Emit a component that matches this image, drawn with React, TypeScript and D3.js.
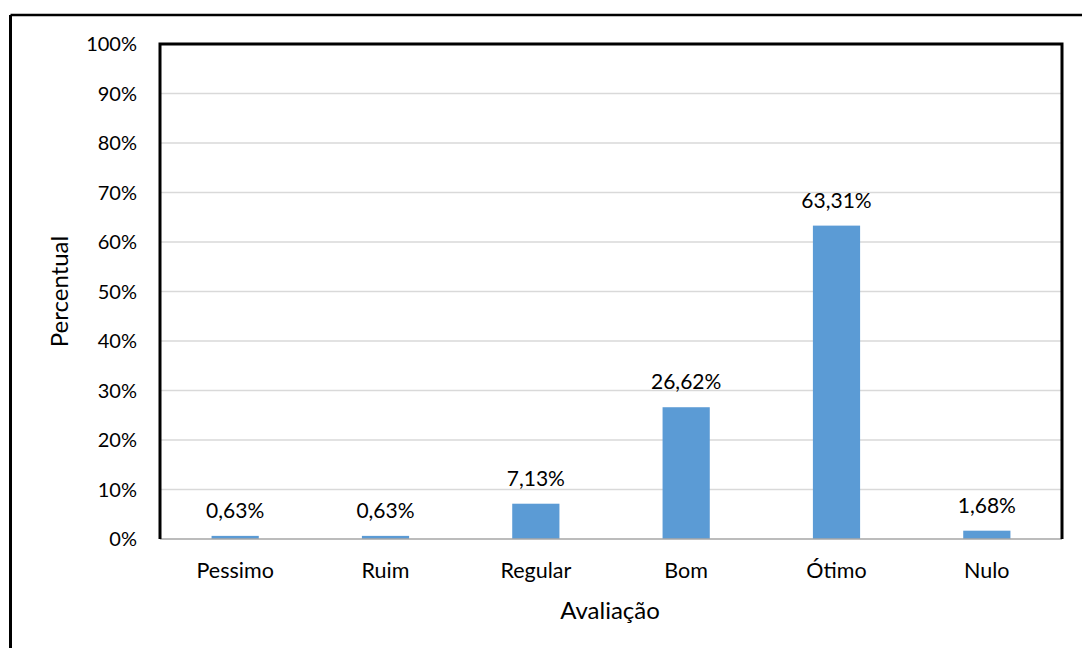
import React from "react";
import * as d3 from "d3";

const categories = ["Pessimo", "Ruim", "Regular", "Bom", "Ótimo", "Nulo"];
const values = [0.63, 0.63, 7.13, 26.62, 63.31, 1.68];
const yTicks = [0, 10, 20, 30, 40, 50, 60, 70, 80, 90, 100];

const W = 1082;
const H = 648;
const plot = { left: 160, right: 1062, top: 44, bottom: 539 };
const FONT = "Lato, 'Open Sans', sans-serif";

export default function App() {
  const x = d3
    .scaleBand<string>()
    .domain(categories)
    .range([plot.left, plot.right])
    .paddingInner(0.686)
    .paddingOuter(0.343);
  const y = d3.scaleLinear().domain([0, 100]).range([plot.bottom, plot.top]);
  const fmt = (v: number) => v.toFixed(2).replace(".", ",") + "%";

  return (
    <svg
      width={W}
      height={H}
      style={{ position: "absolute", left: 0, top: 0, display: "block", background: "#fff" }}
    >
      {/* outer frame: top and left edges */}
      <line x1={10.5} y1={15} x2={W} y2={15} stroke="#000" strokeWidth={2.5} />
      <line x1={10.5} y1={15} x2={10.5} y2={H} stroke="#000" strokeWidth={3} />

      {/* gridlines */}
      {yTicks.slice(1, -1).map((t) => (
        <line
          key={t}
          x1={plot.left}
          x2={plot.right}
          y1={y(t)}
          y2={y(t)}
          stroke="#d9d9d9"
          strokeWidth={1.5}
        />
      ))}

      {/* bars */}
      {categories.map((c, i) => (
        <rect
          key={c}
          x={x(c)}
          y={y(values[i])}
          width={x.bandwidth()}
          height={y(0) - y(values[i])}
          fill="#5b9bd5"
        />
      ))}

      {/* value labels */}
      {categories.map((c, i) => (
        <text
          key={c}
          x={(x(c) as number) + x.bandwidth() / 2}
          y={y(values[i]) - 18}
          textAnchor="middle"
          fontFamily={FONT}
          fontSize={21}
          fill="#000"
        >
          {fmt(values[i])}
        </text>
      ))}

      {/* x axis line */}
      <line x1={plot.left} x2={plot.right} y1={plot.bottom} y2={plot.bottom} stroke="#a6a6a6" strokeWidth={1.5} />

      {/* plot frame: left, top, right */}
      <path
        d={`M${plot.left},${plot.bottom} V${plot.top} H${plot.right} V${plot.bottom}`}
        fill="none"
        stroke="#000"
        strokeWidth={3}
      />

      {/* y tick labels */}
      {yTicks.map((t) => (
        <text
          key={t}
          x={137}
          y={y(t)}
          dy="0.36em"
          textAnchor="end"
          fontFamily={FONT}
          fontSize={20}
          fill="#000"
        >
          {t}%
        </text>
      ))}

      {/* category labels */}
      {categories.map((c) => (
        <text
          key={c}
          x={(x(c) as number) + x.bandwidth() / 2}
          y={578}
          textAnchor="middle"
          fontFamily={FONT}
          fontSize={21.5}
          fill="#000"
        >
          {c}
        </text>
      ))}

      {/* axis titles */}
      <text
        x={610}
        y={619}
        textAnchor="middle"
        fontFamily={FONT}
        fontSize={24}
        fill="#000"
      >
        Avaliação
      </text>
      <text
        transform={`translate(68,${(plot.top + plot.bottom) / 2}) rotate(-90)`}
        textAnchor="middle"
        fontFamily={FONT}
        fontSize={24}
        fill="#000"
      >
        Percentual
      </text>
    </svg>
  );
}
